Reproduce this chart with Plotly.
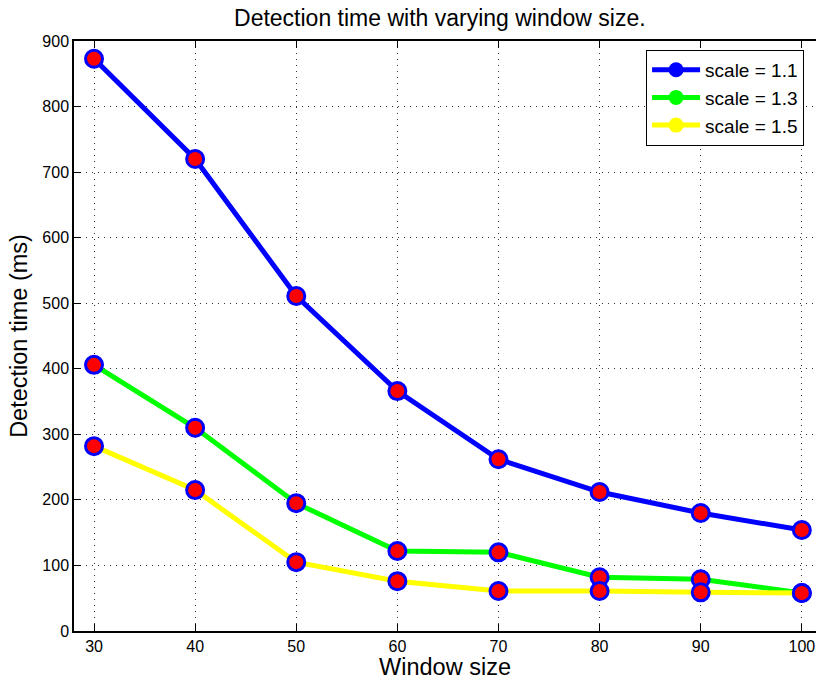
import plotly.graph_objects as go

window_size = [30, 40, 50, 60, 70, 80, 90, 100]
time_scale_11 = [873, 720, 511, 366, 262, 212, 180, 154]
time_scale_13 = [406, 310, 195, 122, 120, 82, 79, 58]
time_scale_15 = [282, 215, 105, 76, 61, 61, 59, 58]

series = [
    ("scale = 1.1", time_scale_11, "#0000ff"),
    ("scale = 1.3", time_scale_13, "#00ff00"),
    ("scale = 1.5", time_scale_15, "#ffff00"),
]

fig = go.Figure()

# Data traces: red markers with blue outline
for name, vals, color in series:
    fig.add_trace(go.Scatter(
        x=window_size, y=vals, mode="lines+markers", showlegend=False,
        line=dict(color=color, width=5),
        marker=dict(size=17, color="#ff0000", line=dict(color="#0000ff", width=3)),
    ))

# Legend entries drawn in the series colour
for name, vals, color in series:
    fig.add_trace(go.Scatter(
        x=[None], y=[None], mode="lines+markers", name=name,
        line=dict(color=color, width=5),
        marker=dict(size=15, color=color),
    ))

font_family = "Liberation Sans, Arial, sans-serif"
grid_style = dict(showgrid=True, gridcolor="#333333", griddash="1px,5px", gridwidth=1)

fig.update_layout(
    width=816, height=680,
    margin=dict(l=74, r=0, t=41, b=49),
    paper_bgcolor="white", plot_bgcolor="white",
    font=dict(family=font_family, color="black", size=16),
    title=dict(text="Detection time with varying window size.", x=0.539, xanchor="center",
               y=0.974, yanchor="middle", font=dict(size=23)),
    legend=dict(x=0.771, y=0.985, xanchor="left", yanchor="top",
                bgcolor="white", bordercolor="black", borderwidth=1,
                font=dict(size=19), tracegroupgap=0, itemwidth=48),
    xaxis=dict(
        range=[28.02, 101.4], tickvals=window_size, ticks="inside", ticklen=7,
        tickcolor="black", showline=True, linecolor="black", linewidth=1.5,
        mirror="ticks", zeroline=False, tickfont=dict(size=16),
        title=dict(text="Window size", font=dict(size=23.5), standoff=2),
        **grid_style,
    ),
    yaxis=dict(
        range=[0, 900], dtick=100, ticks="inside", ticklen=7,
        tickcolor="black", showline=True, linecolor="black", linewidth=1.5,
        mirror=False, zeroline=False, tickfont=dict(size=16),
        title=dict(text="Detection time (ms)", font=dict(size=23.5), standoff=8),
        **grid_style,
    ),
)

fig.write_html("out.html")
